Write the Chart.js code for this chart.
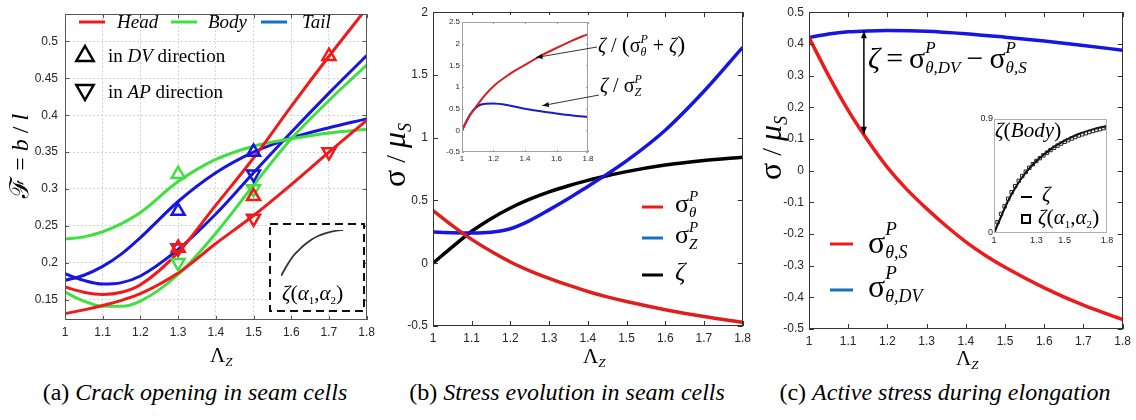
<!DOCTYPE html>
<html>
<head>
<meta charset="utf-8">
<title>Seam cell mechanics</title>
<script src="https://cdn.jsdelivr.net/npm/chart.js@4.4.1/dist/chart.umd.min.js"></script>
<style>
  html, body { margin: 0; padding: 0; background: #fff; }
  body { position: relative; width: 1136px; height: 420px; overflow: hidden; }
  canvas { position: absolute; }
  .cap { position: absolute; top: 380px; width: 380px; text-align: center; white-space: nowrap;
         font-size: 24px; line-height: 24px; color: #000;
         font-family: "Liberation Serif", "Times New Roman", Times, Tinos, "DejaVu Serif", "Noto Serif", FreeSerif, serif; }
</style>
</head>
<body>
<canvas id="chartA" width="380" height="375" style="left:0;top:0"></canvas>
<canvas id="insetA" width="98" height="92" style="left:268px;top:222px"></canvas>
<canvas id="chartB" width="376" height="375" style="left:380px;top:0"></canvas>
<canvas id="insetB" width="300" height="170" style="left:440px;top:15px"></canvas>
<canvas id="chartC" width="380" height="375" style="left:756px;top:0"></canvas>
<canvas id="insetC" width="150" height="140" style="left:975px;top:110px"></canvas>
<div class="cap" style="left:5px">(a) <i>Crack opening in seam cells</i></div>
<div class="cap" style="left:377px">(b) <i>Stress evolution in seam cells</i></div>
<div class="cap" style="left:755px">(c) <i>Active stress during elongation</i></div>
<script>
const SERIF = '"Liberation Serif", "Times New Roman", Times, Tinos, "DejaVu Serif", "Noto Serif", FreeSerif, serif';
const SANS = '"Liberation Sans", Arial, sans-serif';

// ---- (a) crack opening F = b/l for head, body, tail ----
const regions = ['Head', 'Body', 'Tail'];
const lamA = [1, 1.05, 1.1, 1.15, 1.2, 1.3, 1.4, 1.5, 1.6, 1.7, 1.8];
const headDV = [0.167, 0.160, 0.157, 0.160, 0.170, 0.214, 0.278, 0.342, 0.412, 0.480, 0.545];
const headAP = [0.131, 0.136, 0.142, 0.149, 0.158, 0.186, 0.226, 0.264, 0.306, 0.350, 0.393];
const bodyDV = [0.232, 0.235, 0.242, 0.253, 0.268, 0.310, 0.340, 0.358, 0.368, 0.376, 0.381];
const bodyAP = [0.160, 0.148, 0.141, 0.141, 0.148, 0.184, 0.240, 0.305, 0.368, 0.420, 0.468];
const tailDV = [0.176, 0.183, 0.195, 0.212, 0.234, 0.283, 0.322, 0.350, 0.369, 0.383, 0.395];
const tailAP = [0.185, 0.176, 0.171, 0.173, 0.182, 0.218, 0.266, 0.322, 0.377, 0.430, 0.481];

// measured openings (triangles)
const headDVx = [1.3, 1.5, 1.7], headDVm = [0.22, 0.29, 0.48];
const headAPx = [1.3, 1.5, 1.7], headAPm = [0.22, 0.26, 0.35];
const bodyDVx = [1.3], bodyDVm = [0.32];
const bodyAPx = [1.3, 1.5], bodyAPm = [0.20, 0.30];
const tailDVx = [1.3, 1.5], tailDVm = [0.27, 0.35];
const tailAPx = [1.3, 1.5], tailAPm = [0.22, 0.32];

// small sketch of zeta(alpha1, alpha2) in the dashed box
const sketchX = [0, 0.1, 0.2, 0.3, 0.4, 0.5, 0.6, 0.7, 0.8, 0.9, 1];
const sketchY = [0, 0.24, 0.44, 0.58, 0.70, 0.80, 0.87, 0.92, 0.96, 0.985, 1];

// ---- (b) stresses in seam cells ----
const lamB = [1, 1.05, 1.1, 1.15, 1.2, 1.25, 1.3, 1.35, 1.4, 1.45, 1.5, 1.6, 1.7, 1.8];
const sigThetaS = [0.42, 0.30, 0.19, 0.095, 0.01, -0.06, -0.12, -0.175, -0.225, -0.268, -0.305, -0.37, -0.425, -0.47];
const sigZ = [0.248, 0.243, 0.241, 0.247, 0.275, 0.34, 0.425, 0.515, 0.612, 0.71, 0.815, 1.06, 1.37, 1.72];
const zeta = [0, 0.13, 0.255, 0.355, 0.44, 0.51, 0.568, 0.617, 0.66, 0.697, 0.73, 0.782, 0.818, 0.845];

// inset ratios
const lamBi = [1, 1.05, 1.1, 1.15, 1.2, 1.3, 1.4, 1.5, 1.6, 1.7, 1.8];
const ratioTheta = [0, 0.34, 0.6, 0.83, 1.02, 1.29, 1.51, 1.72, 1.9, 2.07, 2.22];
const ratioZ = [0, 0.36, 0.56, 0.615, 0.62, 0.575, 0.5, 0.44, 0.39, 0.345, 0.31];

// ---- (c) active stress ----
const lamC = [1, 1.05, 1.1, 1.15, 1.2, 1.3, 1.4, 1.5, 1.6, 1.7, 1.8];
const sigThetaDV = [0.420, 0.431, 0.438, 0.441, 0.442, 0.440, 0.432, 0.421, 0.409, 0.395, 0.380];

// inset: zeta(alpha1, alpha2) fit for the body
const sqLam = [1, 1.025, 1.05, 1.075, 1.1, 1.125, 1.15, 1.175, 1.2, 1.225, 1.25, 1.275, 1.3, 1.325, 1.35, 1.375, 1.4,
               1.425, 1.45, 1.475, 1.5, 1.525, 1.55, 1.575, 1.6, 1.625, 1.65, 1.675, 1.7, 1.725, 1.75, 1.775, 1.8];
const sqZeta = [0.02, 0.085, 0.15, 0.21, 0.27, 0.322, 0.37, 0.412, 0.45, 0.484, 0.515, 0.543, 0.568, 0.591, 0.613, 0.634, 0.655,
                0.673, 0.69, 0.706, 0.72, 0.733, 0.746, 0.758, 0.77, 0.779, 0.788, 0.797, 0.805, 0.813, 0.82, 0.828, 0.835];

// ticks
const lamTicks = [1, 1.1, 1.2, 1.3, 1.4, 1.5, 1.6, 1.7, 1.8];
const fTicks = [0.15, 0.2, 0.25, 0.3, 0.35, 0.4, 0.45, 0.5];
const stressTicksB = [-0.5, 0, 0.5, 1, 1.5, 2];
const stressTicksC = [-0.5, -0.4, -0.3, -0.2, -0.1, 0, 0.1, 0.2, 0.3, 0.4, 0.5];
const insetBLam = [1, 1.2, 1.4, 1.6, 1.8], insetBRatio = [-0.5, 0, 0.5, 1, 1.5, 2, 2.5];
const insetCLam = [1, 1.3, 1.5, 1.8], insetCZeta = [0, 0.9];

const RED = '#f01a1a', GREEN = '#3fe03f', BLUE = '#1616e0', BLUE_KEY = '#1670c4';

Chart.defaults.font.family = SANS;
Chart.defaults.font.size = 12;
Chart.defaults.color = '#262626';

const F = (size, italic) => (italic ? 'italic ' : '') + size + 'px ' + SERIF;
const pts = (xs, ys) => xs.map((x, i) => ({ x: x, y: ys[i] }));

function curveSet(xs, ys, color, width) {
  return { data: pts(xs, ys), borderColor: color, borderWidth: width, pointRadius: 0,
           cubicInterpolationMode: 'monotone', fill: false, order: 2 };
}
function markerSet(xs, ys, color, down) {
  return { data: pts(xs, ys), showLine: false, pointStyle: 'triangle', pointRotation: down ? 180 : 0,
           pointRadius: 7.5, pointBorderWidth: 2.5, pointBorderColor: color,
           pointBackgroundColor: 'rgba(0,0,0,0)', borderColor: color, order: 0 };
}

// rich text: parts are [text, font, dy, stack]; a stacked part does not advance the pen
function runText(ctx, parts, x, y, draw) {
  let cx = x, held = 0;
  parts.forEach(p => {
    ctx.font = p[1];
    const w = ctx.measureText(p[0]).width;
    if (draw) ctx.fillText(p[0], cx, y + (p[2] || 0));
    if (p[3]) held = Math.max(held, w);
    else { cx += Math.max(w, held); held = 0; }
  });
  return cx + held - x;
}
function drawText(ctx, x, y, parts, align) {
  ctx.save();
  ctx.fillStyle = '#000'; ctx.textAlign = 'left'; ctx.textBaseline = 'alphabetic';
  const x0 = align === 'center' ? x - runText(ctx, parts, 0, 0, false) / 2 : x;
  runText(ctx, parts, x0, y, true);
  ctx.restore();
}
function drawVertical(ctx, x, cy, parts) {
  ctx.save(); ctx.translate(x, cy); ctx.rotate(-Math.PI / 2);
  drawText(ctx, 0, 0, parts, 'center');
  ctx.restore();
}
function arrowHead(ctx, x0, y0, x1, y1, size) {
  const a = Math.atan2(y1 - y0, x1 - x0);
  ctx.beginPath(); ctx.moveTo(x1, y1);
  ctx.lineTo(x1 - size * Math.cos(a - 0.38), y1 - size * Math.sin(a - 0.38));
  ctx.lineTo(x1 - size * Math.cos(a + 0.38), y1 - size * Math.sin(a + 0.38));
  ctx.closePath(); ctx.fill();
}
function arrow(ctx, x0, y0, x1, y1, size, both) {
  ctx.beginPath(); ctx.moveTo(x0, y0); ctx.lineTo(x1, y1); ctx.stroke();
  arrowHead(ctx, x0, y0, x1, y1, size);
  if (both) arrowHead(ctx, x1, y1, x0, y0, size);
}
function triangle(ctx, x, y, r, down) {
  const s = down ? -1 : 1;
  ctx.beginPath();
  ctx.moveTo(x, y - s * r);
  ctx.lineTo(x + r * 0.866, y + s * r / 2);
  ctx.lineTo(x - r * 0.866, y + s * r / 2);
  ctx.closePath(); ctx.stroke();
}
function keyLine(ctx, x0, x1, y, color, width) {
  ctx.save(); ctx.strokeStyle = color; ctx.lineWidth = width;
  ctx.beginPath(); ctx.moveTo(x0, y); ctx.lineTo(x1, y); ctx.stroke(); ctx.restore();
}

const lambdaParts = [['Λ', F(21)], ['Z', F(13, true), 4]];
const sigmaMuParts = [['σ', F(32)], [' / ', F(28)], ['μ', F(32, true)], ['S', F(18, true), 6]];
const alphaParts = [['ζ', F(21, true)], ['(', F(22)], ['α', F(21, true)], ['1', F(11), 4], [',', F(21)],
                    ['α', F(21, true)], ['2', F(11), 4], [')', F(22)]];

// box around the plot area with inward ticks on all four sides
const framePlugin = {
  id: 'frame',
  afterDatasetsDraw(chart, args, opts) {
    const { ctx, chartArea: a, scales } = chart;
    ctx.save();
    ctx.strokeStyle = opts.color || '#333'; ctx.lineWidth = 1;
    ctx.strokeRect(Math.round(a.left) + 0.5, Math.round(a.top) + 0.5,
                   Math.round(a.right - a.left) - 1, Math.round(a.bottom - a.top) - 1);
    const len = opts.tick || 0;
    if (len > 0) {
      ctx.beginPath();
      scales.x.ticks.forEach(t => {
        const p = Math.round(scales.x.getPixelForValue(t.value)) + 0.5;
        ctx.moveTo(p, a.bottom); ctx.lineTo(p, a.bottom - len);
        ctx.moveTo(p, a.top); ctx.lineTo(p, a.top + len);
      });
      scales.y.ticks.forEach(t => {
        const p = Math.round(scales.y.getPixelForValue(t.value)) + 0.5;
        ctx.moveTo(a.left, p); ctx.lineTo(a.left + len, p);
        ctx.moveTo(a.right, p); ctx.lineTo(a.right - len, p);
      });
      ctx.stroke();
    }
    ctx.restore();
  }
};

// white patch behind an inset
const backPlugin = {
  id: 'back',
  beforeDraw(chart, args, opts) {
    if (!opts.rect) return;
    const r = opts.rect;
    chart.ctx.save(); chart.ctx.fillStyle = '#fff';
    chart.ctx.fillRect(r[0], r[1], r[2], r[3]); chart.ctx.restore();
  }
};

function axisOptions(o) {
  const grid = o.grid ? { color: '#d2d2d2', lineWidth: 1, drawTicks: false } : { display: false, drawTicks: false };
  const border = o.grid ? { display: false, dash: [2, 2] } : { display: false };
  const font = { size: o.tickSize || 12 };
  return {
    responsive: false, maintainAspectRatio: false, animation: false, devicePixelRatio: 1, events: [],
    layout: { autoPadding: false, padding: { left: 0, right: o.W - o.area.right, top: o.area.top, bottom: 0 } },
    plugins: { legend: { display: false }, tooltip: { enabled: false }, frame: o.frame, back: { rect: o.back } },
    scales: {
      x: {
        type: 'linear', min: o.x[0], max: o.x[1], bounds: 'data', grid: grid, border: border,
        ticks: { font: font, color: '#262626', padding: o.xPad, maxRotation: 0, autoSkip: false, callback: v => String(v) },
        afterBuildTicks: s => { s.ticks = o.xTicks.map(v => ({ value: v })); },
        afterFit: s => { s.height = o.H - o.area.bottom; }
      },
      y: {
        type: 'linear', min: o.y[0], max: o.y[1], bounds: 'data', grid: grid, border: border,
        ticks: { font: font, color: '#262626', padding: o.yPad, autoSkip: false, callback: v => String(v) },
        afterBuildTicks: s => { s.ticks = o.yTicks.map(v => ({ value: v })); },
        afterFit: s => { s.width = o.area.left; }
      }
    }
  };
}

// ---------------- panel (a) ----------------
const panelAText = {
  id: 'panelAText',
  afterDraw(chart) {
    const ctx = chart.ctx;
    const keys = [[RED, 79, 117], [GREEN, 171, 208], [BLUE_KEY, 261, 302]];
    keys.forEach((k, i) => {
      keyLine(ctx, k[1], k[1] + 26, 22, k[0], 3);
      drawText(ctx, k[2], 28, [[regions[i], F(19, true)]]);
    });
    ctx.save(); ctx.strokeStyle = '#000'; ctx.lineWidth = 2.5;
    triangle(ctx, 85, 56, 10, false);
    triangle(ctx, 85, 90, 10, true);
    ctx.restore();
    drawText(ctx, 108, 62, [['in ', F(19)], ['DV', F(19, true)], [' direction', F(19)]]);
    drawText(ctx, 108, 98, [['in ', F(19)], ['AP', F(19, true)], [' direction', F(19)]]);
    drawVertical(ctx, 28, 156, [['ℱ', F(26, true)], [' = ', F(24)], ['b', F(24, true)], [' / ', F(24)], ['l', F(24, true)]]);
    drawText(ctx, 210, 362, lambdaParts);
  }
};

new Chart(document.getElementById('chartA'), {
  type: 'line',
  data: { datasets: [
    curveSet(lamA, headDV, RED, 3), curveSet(lamA, headAP, RED, 3),
    curveSet(lamA, bodyDV, GREEN, 3), curveSet(lamA, bodyAP, GREEN, 3),
    curveSet(lamA, tailDV, BLUE, 3), curveSet(lamA, tailAP, BLUE, 3),
    markerSet(headDVx, headDVm, RED, false), markerSet(headAPx, headAPm, RED, true),
    markerSet(bodyDVx, bodyDVm, GREEN, false), markerSet(bodyAPx, bodyAPm, GREEN, true),
    markerSet(tailDVx, tailDVm, BLUE, false), markerSet(tailAPx, tailAPm, BLUE, true)
  ] },
  options: axisOptions({ W: 380, H: 375, area: { left: 65, right: 373, top: 6, bottom: 320 },
    x: [1, 1.8], y: [0.1223, 0.537], xTicks: lamTicks, yTicks: fTicks, grid: true, xPad: 5, yPad: 7,
    frame: { color: '#555', tick: 4 } }),
  plugins: [framePlugin, panelAText]
});

// dashed box with the zeta(alpha1, alpha2) sketch
new Chart(document.getElementById('insetA'), {
  type: 'line',
  data: { datasets: [curveSet(sketchX, sketchY, '#333', 1.8)] },
  options: {
    responsive: false, animation: false, devicePixelRatio: 1, events: [],
    layout: { autoPadding: false, padding: { left: 13, right: 23, top: 8, bottom: 38 } },
    plugins: { legend: { display: false }, tooltip: { enabled: false }, back: { rect: [2, 2, 94, 87] } },
    scales: { x: { type: 'linear', display: false, min: 0, max: 1 }, y: { type: 'linear', display: false, min: 0, max: 1 } }
  },
  plugins: [backPlugin, {
    id: 'dashBox',
    afterDraw(chart) {
      const ctx = chart.ctx;
      ctx.save(); ctx.strokeStyle = '#111'; ctx.lineWidth = 2; ctx.setLineDash([8, 5]);
      ctx.strokeRect(2, 2, 94, 87); ctx.restore();
      drawText(ctx, 14, 78, alphaParts);
    }
  }]
});

// ---------------- panel (b) ----------------
const panelBText = {
  id: 'panelBText',
  afterDraw(chart) {
    const ctx = chart.ctx;
    keyLine(ctx, 262, 283, 207, RED, 3);
    keyLine(ctx, 262, 283, 238, BLUE_KEY, 3);
    keyLine(ctx, 262, 283, 275, '#000', 3);
    drawText(ctx, 295, 212, [['σ', F(26)], ['P', F(15, true), -11, true], ['θ', F(15, true), 5]]);
    drawText(ctx, 295, 243, [['σ', F(26)], ['P', F(15, true), -11, true], ['Z', F(15, true), 6]]);
    drawText(ctx, 295, 280, [['ζ', F(26, true)]]);
    drawVertical(ctx, 25, 155, sigmaMuParts);
    drawText(ctx, 203, 363, lambdaParts);
  }
};

new Chart(document.getElementById('chartB'), {
  type: 'line',
  data: { datasets: [
    curveSet(lamB, sigThetaS, '#e01e1e', 3.5),
    curveSet(lamB, sigZ, BLUE, 3.5),
    curveSet(lamB, zeta, '#000', 3.5)
  ] },
  options: axisOptions({ W: 376, H: 375, area: { left: 53, right: 363, top: 7, bottom: 326 },
    x: [1, 1.8], y: [-0.5, 2], xTicks: lamTicks, yTicks: stressTicksB, grid: false, xPad: 5, yPad: 5,
    frame: { color: '#333', tick: 5 } }),
  plugins: [framePlugin, panelBText]
});

new Chart(document.getElementById('insetB'), {
  type: 'line',
  data: { datasets: [
    curveSet(lamBi, ratioTheta, '#d42020', 2),
    curveSet(lamBi, ratioZ, '#1a1ad0', 2)
  ] },
  options: axisOptions({ W: 300, H: 170, area: { left: 22, right: 148, top: 7, bottom: 137 },
    x: [1, 1.8], y: [-0.5, 2.5], xTicks: insetBLam, yTicks: insetBRatio, grid: false, xPad: 2, yPad: 2,
    tickSize: 8, frame: { color: '#a0a0a0', tick: 2 }, back: [0, 0, 152, 152] }),
  plugins: [backPlugin, framePlugin, {
    id: 'insetBText',
    afterDraw(chart) {
      const ctx = chart.ctx, sx = chart.scales.x, sy = chart.scales.y;
      ctx.save(); ctx.strokeStyle = '#333'; ctx.fillStyle = '#111'; ctx.lineWidth = 1;
      arrow(ctx, 157, 32, sx.getPixelForValue(1.47), sy.getPixelForValue(1.68), 7);
      arrow(ctx, 159, 80, sx.getPixelForValue(1.51), sy.getPixelForValue(0.57), 7);
      ctx.restore();
      drawText(ctx, 158, 37, [['ζ', F(20, true)], [' / ', F(20)], ['(', F(24)], ['σ', F(20)],
        ['P', F(12, true), -9, true], ['θ', F(12, true), 4], [' + ', F(20)], ['ζ', F(20, true)], [')', F(24)]]);
      drawText(ctx, 160, 77, [['ζ', F(20, true)], [' / ', F(20)], ['σ', F(20)],
        ['P', F(12, true), -9, true], ['Z', F(12, true), 4]]);
    }
  }]
});

// ---------------- panel (c) ----------------
const panelCText = {
  id: 'panelCText',
  afterDraw(chart) {
    const ctx = chart.ctx, sx = chart.scales.x, sy = chart.scales.y;
    ctx.save(); ctx.strokeStyle = '#000'; ctx.fillStyle = '#000'; ctx.lineWidth = 1.5;
    const ax = sx.getPixelForValue(1.14);
    arrow(ctx, ax, sy.getPixelForValue(0.441), ax, sy.getPixelForValue(0.115), 8, true);
    ctx.restore();
    drawText(ctx, 112, 68, [['ζ', F(30, true)], ['\u2009=\u2009', F(30)], ['σ', F(30)],
      ['P', F(17, true), -15, true], ['θ,DV', F(17, true), 5], ['\u2009−\u2009', F(30)], ['σ', F(30)],
      ['P', F(17, true), -15, true], ['θ,S', F(17, true), 5]]);
    keyLine(ctx, 74, 97, 244, RED, 3);
    keyLine(ctx, 74, 97, 290, BLUE_KEY, 3);
    drawText(ctx, 112, 253, [['σ', F(32)], ['P', F(19, true), -18, true], ['θ,S', F(18, true), 5]]);
    drawText(ctx, 112, 297, [['σ', F(32)], ['P', F(19, true), -18, true], ['θ,DV', F(18, true), 5]]);
    drawVertical(ctx, 25, 148, sigmaMuParts);
    drawText(ctx, 200, 365, lambdaParts);
  }
};

new Chart(document.getElementById('chartC'), {
  type: 'line',
  data: { datasets: [
    curveSet(lamB, sigThetaS, RED, 3.5),
    curveSet(lamC, sigThetaDV, BLUE, 3.5)
  ] },
  options: axisOptions({ W: 380, H: 375, area: { left: 53, right: 367, top: 8, bottom: 329 },
    x: [1, 1.8], y: [-0.5, 0.5], xTicks: lamTicks, yTicks: stressTicksC, grid: false, xPad: 5, yPad: 5,
    frame: { color: '#333', tick: 5 } }),
  plugins: [framePlugin, panelCText]
});

new Chart(document.getElementById('insetC'), {
  type: 'line',
  data: { datasets: [
    { data: pts(sqLam, sqZeta), showLine: false, pointStyle: 'rect', pointRadius: 2.4, pointBorderWidth: 1,
      pointBorderColor: '#222', pointBackgroundColor: 'rgba(0,0,0,0)', order: 0 },
    curveSet(lamB, zeta, '#000', 2)
  ] },
  options: axisOptions({ W: 150, H: 140, area: { left: 19, right: 132, top: 9, bottom: 123 },
    x: [1, 1.8], y: [0, 0.9], xTicks: insetCLam, yTicks: insetCZeta, grid: false, xPad: 2, yPad: 1,
    tickSize: 9, frame: { color: '#b0b0b0', tick: 0 }, back: [4, 4, 130, 131] }),
  plugins: [backPlugin, framePlugin, {
    id: 'insetCText',
    afterDraw(chart) {
      const ctx = chart.ctx;
      drawText(ctx, 20, 27, [['ζ', F(21, true)], ['(', F(22)], ['Body', F(21, true)], [')', F(22)]]);
      keyLine(ctx, 46, 57, 87, '#000', 2);
      drawText(ctx, 67, 91, [['ζ', F(21, true)]]);
      ctx.save(); ctx.strokeStyle = '#000'; ctx.lineWidth = 2;
      ctx.strokeRect(47, 105, 8, 8); ctx.restore();
      drawText(ctx, 63, 114, alphaParts);
    }
  }]
});
</script>
</body>
</html>
